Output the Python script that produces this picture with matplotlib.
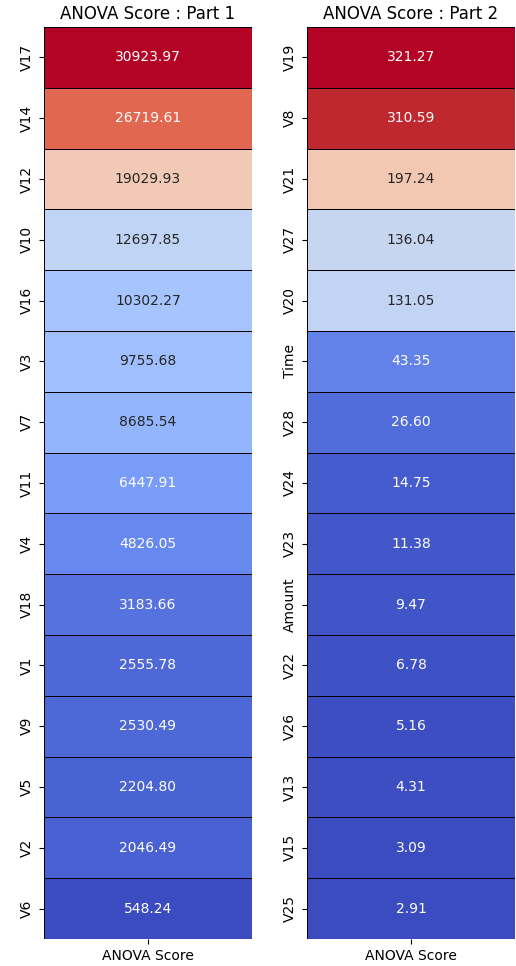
import numpy as np
import pandas as pd
import matplotlib
matplotlib.use("Agg")
import matplotlib.pyplot as plt
import seaborn as sns

features_1 = ["V17", "V14", "V12", "V10", "V16", "V3", "V7", "V11", "V4",
              "V18", "V1", "V9", "V5", "V2", "V6"]
scores_1 = [30923.97, 26719.61, 19029.93, 12697.85, 10302.27, 9755.68, 8685.54,
            6447.91, 4826.05, 3183.66, 2555.78, 2530.49, 2204.80, 2046.49, 548.24]

features_2 = ["V19", "V8", "V21", "V27", "V20", "Time", "V28", "V24", "V23",
              "Amount", "V22", "V26", "V13", "V15", "V25"]
scores_2 = [321.27, 310.59, 197.24, 136.04, 131.05, 43.35, 26.60, 14.75, 11.38,
            9.47, 6.78, 5.16, 4.31, 3.09, 2.91]

df1 = pd.DataFrame({"ANOVA Score": scores_1}, index=features_1)
df2 = pd.DataFrame({"ANOVA Score": scores_2}, index=features_2)

fig = plt.figure(figsize=(5.16, 9.66), dpi=100)
ax1 = fig.add_axes([44 / 516, 27 / 966, 208 / 516, 912 / 966])
ax2 = fig.add_axes([307 / 516, 27 / 966, 208 / 516, 912 / 966])

for ax, df, title in [(ax1, df1, "ANOVA Score : Part 1"),
                      (ax2, df2, "ANOVA Score : Part 2")]:
    sns.heatmap(df, ax=ax, annot=True, fmt=".2f", cmap="coolwarm",
                linewidths=0.4, linecolor="black", cbar=False)
    ax.set_title(title)
    ax.tick_params(axis="y", rotation=90)

fig.savefig("out.png", dpi=100)
